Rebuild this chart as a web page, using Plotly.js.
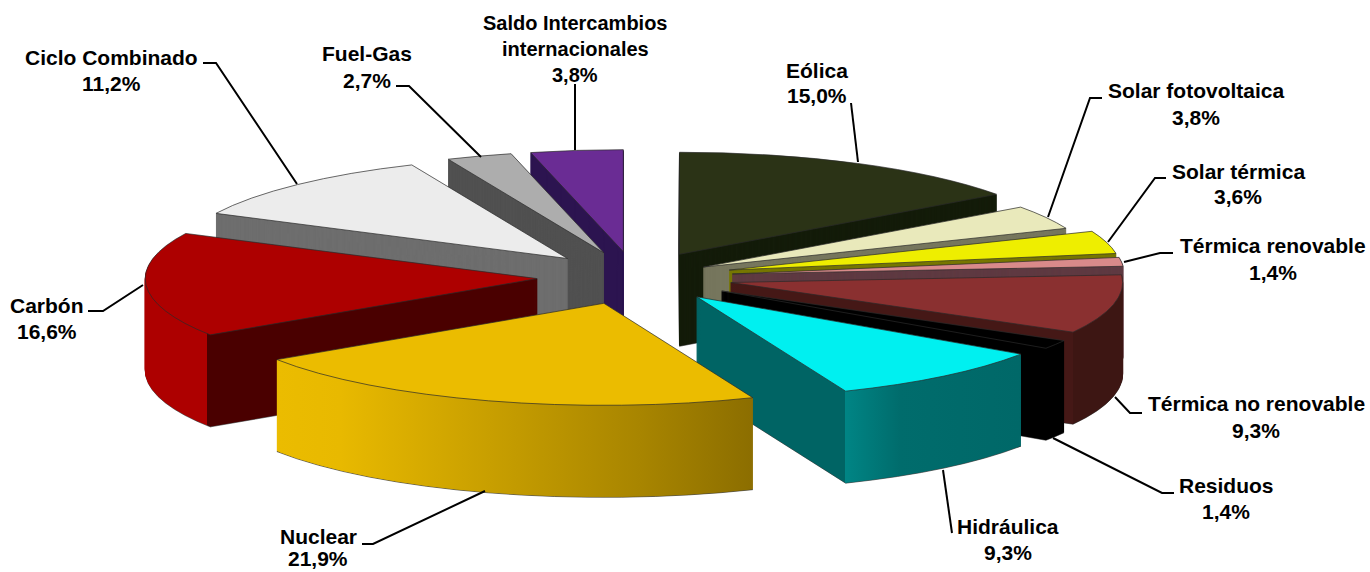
<!DOCTYPE html>
<html><head><meta charset="utf-8">
<script src="https://cdn.plot.ly/plotly-3.0.1.min.js"></script>
<style>html,body{margin:0;padding:0;background:#fff;overflow:hidden}#g{width:1370px;height:572px}</style>
</head><body><div id="g"></div>
<script>
const categories = ["Eólica","Solar fotovoltaica","Solar térmica","Térmica renovable","Térmica no renovable","Residuos","Hidráulica","Nuclear","Carbón","Ciclo Combinado","Fuel-Gas","Saldo Intercambios|internacionales"];
const shares = [15.0,3.8,3.6,1.4,9.3,1.4,9.3,21.9,16.6,11.2,2.7,3.8];
const pulls = [0.25,0.2,0.25,0.25,0.25,0.26,0.25,0.27,0.25,0.25,0.25,0.25];
const topColors = ["#2b3316","#e9e9bb","#eeee00","#d98a8a","#8a3030","#000000","#00f0f0","#ebbc00","#ad0000","#ececec","#adadad","#6a2c94"];
const wallStops = [
 [[0,"#141c0a"]],
 [[0,"#77775e"]],
 [[0,"#777700"]],
 [[0,"#5f3a42"]],
 [[730,"#451816"],[1073,"#451816"],[1073,"#3d1613"],[1125,"#3d1613"]],
 [[0,"#000000"]],
 [[697,"#006464"],[845,"#006464"],[845,"#008585"],[900,"#006c6c"],[1021,"#006868"]],
 [[275,"#ebbc00"],[340,"#e8b900"],[640,"#a88500"],[752,"#8c6e00"]],
 [[143,"#ad0000"],[207,"#ad0000"],[207,"#4a0000"],[537,"#4a0000"]],
 [[0,"#6e6e6e"]],
 [[0,"#515151"]],
 [[0,"#2c1450"]]
];
const labelX = [817,1196,1238,1272.5,1256,1226,1008,318,47,111,367,575];
const labelLineY = [[70,96],[91,117],[171,197],[246,272],[403,430],[485,511],[526,552],[536,558],[305,331],[57,83],[54,80],[23,49,75]];
const labelSize = [21,21,21,21,21,21,21,21,21,21,21,20];
const leaders = [
 [[851,103],[858,162]],
 [[1102,98],[1090,98],[1048,217]],
 [[1166,178],[1155,178],[1108,242]],
 [[1173,253],[1160,253],[1124,262]],
 [[1142,413],[1130,413],[1115,397]],
 [[1174,493],[1162,493],[1053,438]],
 [[952,533],[943,470]],
 [[362,544],[373,544],[485,491]],
 [[88,311],[103,311],[143,285]],
 [[203,63],[216,63],[297,184]],
 [[396,86],[409,86],[481,157]],
 [[575,84],[575,150]]
];
const W = 1370, H = 572, centre = [635,277], axisX = 392, axisY = 102, depth = 92;

const pieTrace = (colors, line) => ({
  type:"pie", values:shares, labels:categories.map((c,i)=>i+":"+c), sort:false, direction:"clockwise", rotation:0,
  pull:pulls, textinfo:"none", hoverinfo:"skip", showlegend:false,
  domain:{x:[0,1],y:[0,1]}, marker:{colors:colors, line:line}
});
const traces = [];
for (let d = depth; d >= 1; d--) {
  traces.push(pieTrace(topColors, d===depth ? {color:"#222",width:0.6} : {width:0}));
}
traces.push(pieTrace(topColors, {color:"#2a2a2a",width:0.7}));

const fmt = v => v.toFixed(1).replace(".",",")+"%";
const annotations = [];
categories.forEach((c,i)=>{
  c.split("|").concat(fmt(shares[i])).forEach((line,k)=>{
    annotations.push({
      xref:"paper", yref:"paper", x:labelX[i]/W, y:1-labelLineY[i][k]/H, xanchor:"center", yanchor:"middle", align:"center",
      showarrow:false, text:line,
      font:{family:"Liberation Sans, Arial, sans-serif", size:labelSize[i], color:"#000", weight:700}
    });
  });
});
const shapes = leaders.map(p=>({
  type:"path", xref:"paper", yref:"paper", line:{color:"#000",width:2},
  path:p.map((q,k)=>(k?"L":"M")+(q[0]/W)+" "+(1-q[1]/H)).join(" ")
}));

Plotly.newPlot("g", traces, {
  width:W, height:H, margin:{l:0,r:0,t:0,b:0,pad:0}, paper_bgcolor:"#fff", plot_bgcolor:"#fff",
  showlegend:false, annotations, shapes
}, {displayModeBar:false, staticPlot:true}).then(gd=>{
  const cd = gd.calcdata[0][0];
  const sx = axisX/cd.r, sy = axisY/cd.r;
  const groups = gd.querySelectorAll(".pielayer g.trace");
  const n = groups.length;
  groups.forEach((g,i)=>{
    const off = n-1-i;
    g.setAttribute("transform",`translate(${centre[0]},${centre[1]+off}) scale(${sx},${sy}) translate(${-cd.cx},${-cd.cy})`);
    g.querySelectorAll("path").forEach(p=>p.style.vectorEffect="non-scaling-stroke");
  });
  const defs = gd.querySelector("svg.main-svg defs");
  const NS = "http://www.w3.org/2000/svg";
  const topSlices = groups[n-1].querySelectorAll("g.slice path.surface");
  const fills = wallStops.map((stops,i)=>{
    if (stops.length===1) return stops[0][1];
    const r = topSlices[i].getBoundingClientRect();
    const lg = document.createElementNS(NS,"linearGradient");
    lg.setAttribute("id","wall"+i); lg.setAttribute("x1","0"); lg.setAttribute("x2","1"); lg.setAttribute("y1","0"); lg.setAttribute("y2","0");
    stops.forEach(s=>{
      const st = document.createElementNS(NS,"stop");
      st.setAttribute("offset",Math.max(0,Math.min(1,(s[0]-r.left)/r.width)));
      st.setAttribute("stop-color",s[1]);
      lg.appendChild(st);
    });
    defs.appendChild(lg);
    return `url(#wall${i})`;
  });
  groups.forEach((g,i)=>{
    if (i===n-1) return;
    g.querySelectorAll("g.slice path.surface").forEach((p,k)=>{
      p.style.fill=fills[k];
      if (i>0) { p.style.stroke=fills[k]; p.style.strokeWidth="1px"; }
    });
  });
});
</script></body></html>
